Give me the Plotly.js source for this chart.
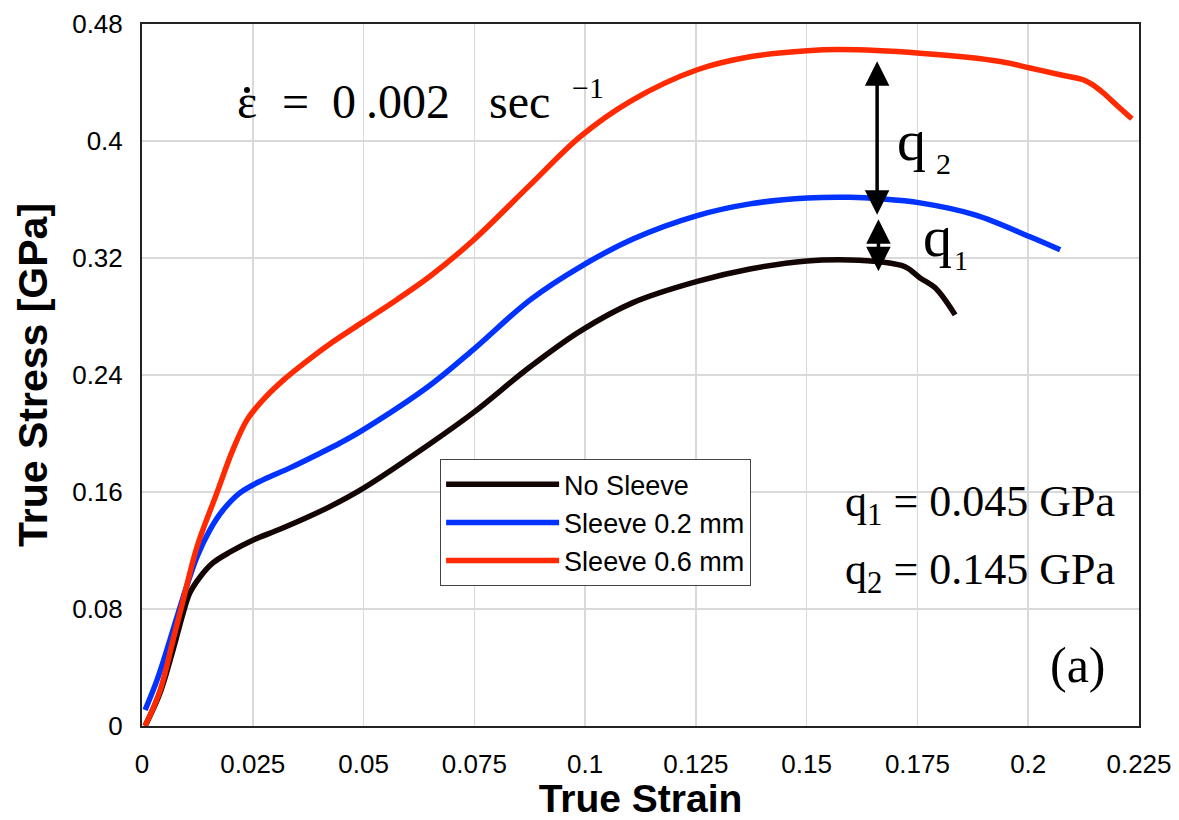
<!DOCTYPE html>
<html>
<head>
<meta charset="utf-8">
<script src="https://cdn.plot.ly/plotly-3.0.1.min.js"></script>
<style>html,body{margin:0;padding:0;background:#fff;}#chart{width:1179px;height:820px;}</style>
</head>
<body>
<div id="chart"></div>
<script>
// ---- data ----
const seriesNames = ["No Sleeve", "Sleeve 0.2 mm", "Sleeve 0.6 mm"];

const strainNoSleeve = [0.0007, 0.004, 0.007, 0.0093, 0.0108, 0.0131, 0.016, 0.0199, 0.0251, 0.0311, 0.0372, 0.0424, 0.0499, 0.065, 0.0747, 0.0876, 0.0989, 0.1108, 0.1253, 0.1372, 0.1501, 0.1598, 0.1666, 0.1722, 0.1756, 0.179, 0.1835];
const stressNoSleeve = [0.0, 0.022, 0.052, 0.0773, 0.091, 0.1019, 0.1115, 0.119, 0.1272, 0.1345, 0.1425, 0.15, 0.1625, 0.193, 0.2141, 0.2456, 0.27, 0.2895, 0.304, 0.3125, 0.318, 0.3187, 0.3174, 0.314, 0.3064, 0.2996, 0.2811];

const strainSleeve02 = [0.0007, 0.0034, 0.0063, 0.0093, 0.0124, 0.0153, 0.0183, 0.0221, 0.0273, 0.0334, 0.0395, 0.0447, 0.0499, 0.065, 0.0747, 0.0876, 0.0989, 0.1108, 0.1253, 0.1372, 0.1501, 0.1598, 0.1666, 0.1756, 0.188, 0.2004, 0.2072];
const stressSleeve02 = [0.0109, 0.0315, 0.0588, 0.0882, 0.1156, 0.134, 0.1477, 0.1594, 0.1683, 0.1765, 0.1855, 0.1935, 0.2025, 0.233, 0.2572, 0.2914, 0.314, 0.333, 0.349, 0.357, 0.361, 0.3615, 0.3605, 0.3577, 0.3495, 0.3345, 0.3256];

const strainSleeve06 = [0.0007, 0.0041, 0.007, 0.0093, 0.0124, 0.0169, 0.0205, 0.0237, 0.0273, 0.0319, 0.0372, 0.0431, 0.0499, 0.0575, 0.065, 0.0747, 0.0876, 0.0989, 0.1101, 0.1253, 0.1372, 0.1501, 0.1575, 0.1756, 0.1937, 0.2004, 0.2072, 0.2124, 0.2146, 0.2169, 0.2201, 0.2234];
const stressSleeve06 = [0.0, 0.0246, 0.0588, 0.0862, 0.1224, 0.1594, 0.1888, 0.2093, 0.223, 0.2365, 0.2495, 0.2627, 0.2763, 0.2915, 0.3075, 0.332, 0.37, 0.403, 0.427, 0.4487, 0.4576, 0.4617, 0.4625, 0.46, 0.4544, 0.4499, 0.4453, 0.4419, 0.4384, 0.433, 0.4241, 0.4152];

// q-gap arrows (strain position, top stress, bottom stress)
const arrowStrain = [0.1659, 0.1662];
const arrowTop = [0.4555, 0.3475];
const arrowBottom = [0.3495, 0.311];

const xTicks = [0, 0.025, 0.05, 0.075, 0.1, 0.125, 0.15, 0.175, 0.2, 0.225];
const yTicks = [0, 0.08, 0.16, 0.24, 0.32, 0.4, 0.48];

const colors = ["#140505", "#0033ff", "#ff2a00"];

const traces = [
  {x: strainNoSleeve, y: stressNoSleeve, name: seriesNames[0]},
  {x: strainSleeve02, y: stressSleeve02, name: seriesNames[1]},
  {x: strainSleeve06, y: stressSleeve06, name: seriesNames[2]}
].map((t, i) => Object.assign(t, {
  type: "scatter", mode: "lines",
  line: {color: colors[i], width: 5.5, shape: "spline", smoothing: 1}
}));

const serif = "Liberation Serif, Times New Roman, serif";
function txt(x, y, text, size, anchor) {
  return {xref: "paper", yref: "paper", x: x, y: y, xanchor: anchor || "left", yanchor: "middle",
          text: text, showarrow: false, font: {family: serif, size: size, color: "#000"}};
}
const annotations = [
  // strain-rate label
  txt(0.093, 0.890, "ε", 48),
  txt(0.1384, 0.890, "=", 48),
  txt(0.1886, 0.890, "0", 48),
  txt(0.2227, 0.890, ".002", 48),
  txt(0.3460, 0.890, "sec", 48),
  txt(0.4293, 0.909, "−1", 30),
  // q labels beside the arrows
  txt(0.755, 0.834, "q", 58),
  txt(0.794, 0.801, "2", 30),
  txt(0.781, 0.697, "q", 58),
  txt(0.812, 0.663, "1", 28),
  // values
  txt(0.703, 0.316, "q<sub>1</sub> = 0.045 GPa", 44),
  txt(0.703, 0.219, "q<sub>2</sub> = 0.145 GPa", 44),
  txt(0.9087, 0.087, "(a)", 50)
];
for (let i = 0; i < arrowStrain.length; i++) {
  annotations.push({
    xref: "x", yref: "y", axref: "x", ayref: "y",
    x: arrowStrain[i], y: arrowBottom[i], ax: arrowStrain[i], ay: arrowTop[i],
    text: "", showarrow: true, arrowside: "end+start", arrowhead: 2,
    arrowsize: 1.4, arrowwidth: 3.5, arrowcolor: "#000", standoff: 0, startstandoff: 0
  });
}

const layout = {
  width: 1179, height: 820,
  margin: {l: 142, r: 40, t: 24, b: 94},
  paper_bgcolor: "#fff", plot_bgcolor: "#fff",
  font: {family: "Liberation Sans, Arial, sans-serif", color: "#000"},
  showlegend: true,
  legend: {
    x: 0.299, y: 0.38, xanchor: "left", yanchor: "top",
    bgcolor: "#fff", bordercolor: "#444", borderwidth: 1,
    font: {size: 27, color: "#000"}, itemwidth: 113, tracegroupgap: 0
  },
  xaxis: {
    range: [0, 0.225], tickvals: xTicks, ticktext: xTicks.map(String),
    showgrid: true, gridcolor: "#d9d9d9", gridwidth: 1.5,
    zeroline: false, showline: true, linecolor: "#222", linewidth: 2, mirror: true,
    ticks: "", ticklabelstandoff: 14, tickfont: {size: 26},
    title: {text: "<b>True Strain</b>", font: {size: 39}, standoff: 12}
  },
  yaxis: {
    range: [0, 0.48], tickvals: yTicks, ticktext: yTicks.map(String),
    showgrid: true, gridcolor: "#d9d9d9", gridwidth: 1.5,
    zeroline: false, showline: true, linecolor: "#222", linewidth: 2, mirror: true,
    ticks: "", ticklabelstandoff: 12, tickfont: {size: 26},
    title: {text: "<b>True Stress [GPa]</b>", font: {size: 41}, standoff: 12}
  },
  shapes: [
    // dot of the epsilon-dot symbol
    {type: "circle", xref: "paper", yref: "paper", x0: 0.1023, x1: 0.1083, y0: 0.9017, y1: 0.9103,
     fillcolor: "#000", line: {width: 0}}
  ],
  annotations: annotations
};

Plotly.newPlot("chart", traces, layout, {displayModeBar: false, staticPlot: true});
</script>
</body>
</html>
